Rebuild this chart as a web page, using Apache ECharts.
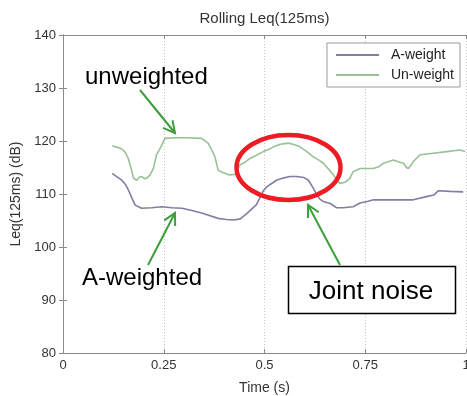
<!DOCTYPE html>
<html><head><meta charset="utf-8">
<script src="https://cdn.jsdelivr.net/npm/echarts@6/dist/echarts.min.js"></script>
<style>html,body{margin:0;padding:0;background:#fff}#c{width:467px;height:396px}</style>
</head><body><div id="c"></div>
<script>
// ---- data ----
const chartTitle = 'Rolling Leq(125ms)';
const xName = 'Time (s)';
const yName = 'Leq(125ms) (dB)';
const xTickLabels = ['0', '0.25', '0.5', '0.75', '1'];
const yTickLabels = ['80', '90', '100', '110', '120', '130', '140'];
const seriesNames = ['A-weight', 'Un-weight'];

const timeA = [0.122,0.135,0.146,0.155,0.162,0.170,0.179,0.195,0.220,0.245,0.270,0.295,0.320,0.344,0.365,0.385,0.405,0.423,0.440,0.456,0.470,0.480,0.490,0.497,0.505,0.514,0.530,0.546,0.563,0.580,0.598,0.609,0.621,0.630,0.638,0.646,0.663,0.679,0.695,0.720,0.737,0.755,0.770,0.820,0.869,0.902,0.920,0.931,0.960,0.993];
const levelA = [113.9,113.2,112.6,111.8,110.8,109.4,107.9,107.3,107.4,107.6,107.4,107.3,106.9,106.4,105.9,105.4,105.2,105.1,105.3,106.3,107.3,108.0,109.5,110.6,111.3,111.8,112.6,113.0,113.3,113.3,113.1,112.6,111.1,109.8,109.0,108.6,108.2,107.4,107.4,107.6,108.3,108.6,108.9,108.9,108.9,109.5,109.8,110.6,110.5,110.4];

const timeU = [0.122,0.135,0.146,0.155,0.162,0.170,0.175,0.183,0.190,0.195,0.202,0.208,0.216,0.224,0.232,0.241,0.253,0.278,0.310,0.344,0.360,0.370,0.377,0.385,0.395,0.405,0.414,0.427,0.439,0.452,0.464,0.480,0.497,0.510,0.522,0.540,0.559,0.575,0.588,0.605,0.621,0.635,0.646,0.660,0.671,0.680,0.687,0.700,0.712,0.720,0.737,0.770,0.785,0.795,0.820,0.835,0.845,0.852,0.857,0.865,0.869,0.886,0.919,0.952,0.985,0.998];
const levelU = [119.1,118.8,118.5,117.8,116.7,114.5,113.0,112.6,113.2,113.3,112.9,113.0,113.6,114.8,117.4,118.6,120.5,120.6,120.6,120.5,119.6,118.2,117.0,114.5,114.1,113.8,113.6,113.7,115.5,116.0,116.7,117.3,118.0,118.4,118.9,119.4,119.6,119.3,118.9,118.0,117.0,116.4,115.8,114.6,113.6,112.6,112.0,112.2,113.0,114.2,114.8,114.8,115.2,115.8,116.4,116.0,115.8,115.0,114.8,115.6,116.1,117.4,117.7,118.0,118.3,118.0];

const annotationTexts = ['unweighted', 'A-weighted', 'Joint noise'];

// ---- chart ----
const FONT = 'Liberation Sans, Arial, Helvetica, sans-serif';
const colorA = '#807ea3';
const colorU = '#98c196';
const axisColor = '#8a8a8a';
const arrowColor = '#3c9e3c';

const chart = echarts.init(document.getElementById('c'), null, {renderer: 'canvas'});

function pairs(xs, ys) { return xs.map((x, i) => [x, ys[i]]); }

const xMin = Number(xTickLabels[0]), xMax = Number(xTickLabels[xTickLabels.length - 1]);
const yMin = Number(yTickLabels[0]), yMax = Number(yTickLabels[yTickLabels.length - 1]);

const baseX = {
  type: 'value', min: xMin, max: xMax, interval: 0.25,
  axisLine: {show: true, lineStyle: {color: axisColor, width: 1}},
  axisTick: {show: true, inside: true, length: 4, lineStyle: {color: axisColor}},
  splitLine: {show: false}
};
const baseY = {
  type: 'value', min: yMin, max: yMax, interval: 10,
  axisLine: {show: true, lineStyle: {color: axisColor, width: 1}},
  axisTick: {show: true, inside: true, length: 4, lineStyle: {color: axisColor}},
  splitLine: {show: false}
};

chart.setOption({
  animation: false,
  backgroundColor: '#fff',
  textStyle: {fontFamily: FONT},
  title: {
    text: chartTitle, left: 264.5, top: 11, textAlign: 'center', padding: 0,
    textStyle: {fontSize: 15, fontWeight: 'normal', color: '#333', fontFamily: FONT}
  },
  grid: {left: 63, right: 1, top: 35, bottom: 43, containLabel: false, outerBoundsMode: 'none'},
  legend: {
    data: seriesNames, orient: 'vertical', right: 7, top: 43,
    backgroundColor: '#fff', borderColor: '#999', borderWidth: 1,
    padding: [5, 6, 5, 9], itemGap: 6, itemWidth: 43, itemHeight: 2, icon: 'rect',
    textStyle: {fontSize: 14, color: '#222', fontFamily: FONT, padding: [0, 0, 0, 7]}
  },
  xAxis: [
    Object.assign({}, baseX, {
      position: 'bottom',
      name: xName, nameLocation: 'middle', nameGap: 28,
      nameTextStyle: {fontSize: 14, color: '#333', fontFamily: FONT},
      axisLabel: {show: true, margin: 6, fontSize: 13, color: '#333', fontFamily: FONT,
        formatter: v => { const i = Math.round((v - xMin) / 0.25); return xTickLabels[i] ?? ''; }},
      splitLine: {show: true, lineStyle: {color: '#c4c4c4', type: [1, 2], width: 1}}
    }),
    Object.assign({}, baseX, {position: 'top', axisLabel: {show: false}})
  ],
  yAxis: [
    Object.assign({}, baseY, {
      position: 'left',
      name: yName, nameLocation: 'middle', nameGap: 32, nameRotate: 90,
      nameTextStyle: {fontSize: 14, color: '#333', fontFamily: FONT},
      axisLabel: {show: true, margin: 7, fontSize: 13, color: '#333', fontFamily: FONT,
        formatter: v => { const i = Math.round((v - yMin) / 10); return yTickLabels[i] ?? ''; }}
    }),
    Object.assign({}, baseY, {position: 'right', axisLabel: {show: false}})
  ],
  series: [
    {name: seriesNames[0], type: 'line', data: pairs(timeA, levelA), symbol: 'none', showSymbol: false,
     lineStyle: {color: colorA, width: 1.6}, itemStyle: {color: colorA}, z: 3},
    {name: seriesNames[1], type: 'line', data: pairs(timeU, levelU), symbol: 'none', showSymbol: false,
     lineStyle: {color: colorU, width: 1.6}, itemStyle: {color: colorU}, z: 3}
  ]
});

// ---- annotations (pixel overlay) ----
function arrow(x1, y1, x2, y2) {
  const ang = Math.atan2(y2 - y1, x2 - x1);
  const L = 13, a = 28 * Math.PI / 180;
  const p1 = [x2 - L * Math.cos(ang - a), y2 - L * Math.sin(ang - a)];
  const p2 = [x2 - L * Math.cos(ang + a), y2 - L * Math.sin(ang + a)];
  return [
    {type: 'line', z: 100, shape: {x1, y1, x2, y2}, style: {stroke: arrowColor, lineWidth: 2}},
    {type: 'polyline', z: 100, shape: {points: [p1, [x2, y2], p2]}, style: {stroke: arrowColor, lineWidth: 2, fill: null}}
  ];
}
const bigFont = '24px ' + FONT;
const boxFont = '26px ' + FONT;
const graphics = [
  {type: 'ellipse', z: 100, shape: {cx: 288.5, cy: 167.5, rx: 52, ry: 32.5},
   style: {stroke: '#ec1c24', lineWidth: 4.5, fill: null}},
  ...arrow(140, 90, 175, 133),
  ...arrow(148, 265, 175, 213),
  ...arrow(340, 265, 308, 205),
  {type: 'text', z: 100, x: 85, y: 77, style: {text: annotationTexts[0], font: bigFont, fill: '#000', verticalAlign: 'middle', align: 'left'}},
  {type: 'text', z: 100, x: 82, y: 278, style: {text: annotationTexts[1], font: bigFont, fill: '#000', verticalAlign: 'middle', align: 'left'}},
  {type: 'rect', z: 100, shape: {x: 288.5, y: 266.5, width: 167, height: 47},
   style: {stroke: '#000', lineWidth: 1.5, fill: '#fff'}},
  {type: 'text', z: 101, x: 371, y: 292, style: {text: annotationTexts[2], font: boxFont, fill: '#000', verticalAlign: 'middle', align: 'center'}}
];
chart.setOption({graphic: graphics});
</script>
</body></html>
